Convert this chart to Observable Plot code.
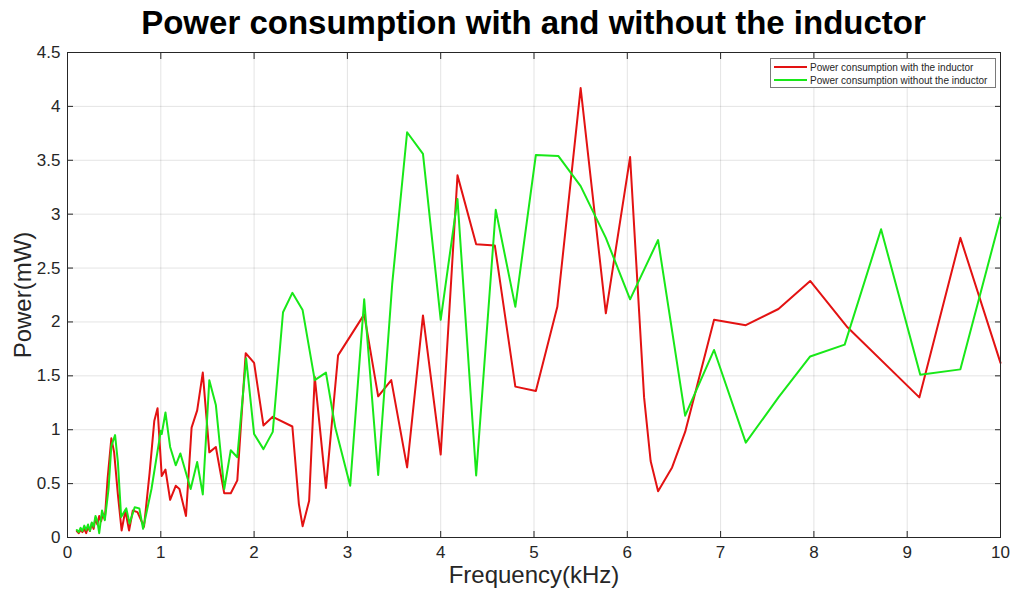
<!DOCTYPE html>
<html>
<head>
<meta charset="utf-8">
<script src="https://cdn.jsdelivr.net/npm/d3@7"></script>
<script src="https://cdn.jsdelivr.net/npm/@observablehq/plot@0.6"></script>
<style>
  html, body { margin: 0; padding: 0; background: #fff; }
  #wrap { position: relative; width: 1013px; height: 593px; font-family: "Liberation Sans", Arial, sans-serif; }
  #title { position: absolute; left: 67px; width: 933px; top: 4px; text-align: center; font-weight: bold; font-size: 33px; color: #000; }
  #legend { position: absolute; left: 770px; top: 58px; width: 226px; height: 30px; background: #fff; border: 1px solid #7a7a7a; box-sizing: border-box; font-size: 10px; color: #262626; }
  .row { position: absolute; left: 3px; height: 12px; display: flex; align-items: center; }
  .sw { width: 33px; height: 0; border-top: 2px solid; margin-right: 3px; }
</style>
</head>
<body>
<div id="wrap">
  <div id="chart"></div>
  <div id="title"></div>
  <div id="legend"></div>
</div>
<script>
const titleText = "Power consumption with and without the inductor";
const xLabel = "Frequency(kHz)";
const yLabel = "Power(mW)";
const seriesNames = ["Power consumption with the inductor", "Power consumption without the inductor"];
const seriesColors = ["#e31212", "#18e818"];

const xTicks = [0,1,2,3,4,5,6,7,8,9,10];
const yTicks = [0,0.5,1,1.5,2,2.5,3,3.5,4,4.5];

const freqWith = [0.10,0.12,0.14,0.16,0.18,0.20,0.22,0.24,0.26,0.28,0.30,0.32,0.34,0.36,0.38,0.40,0.43,0.47,0.50,0.54,0.58,0.62,0.66,0.70,0.75,0.82,0.88,0.93,0.965,1.01,1.05,1.10,1.16,1.20,1.27,1.33,1.39,1.45,1.52,1.59,1.68,1.75,1.82,1.91,2.0,2.10,2.20,2.41,2.48,2.52,2.59,2.65,2.77,2.90,3.18,3.33,3.47,3.64,3.81,4.0,4.18,4.38,4.58,4.80,5.02,5.25,5.50,5.77,6.03,6.18,6.25,6.33,6.48,6.62,6.93,7.27,7.62,7.96,8.36,9.13,9.57,10.0];
const powerWith = [0.06,0.04,0.07,0.05,0.08,0.04,0.1,0.06,0.13,0.08,0.18,0.12,0.2,0.15,0.22,0.17,0.55,0.92,0.79,0.4,0.065,0.25,0.065,0.25,0.235,0.1,0.6,1.08,1.2,0.57,0.63,0.35,0.48,0.45,0.2,1.02,1.18,1.53,0.79,0.84,0.41,0.41,0.53,1.71,1.62,1.04,1.12,1.03,0.31,0.105,0.34,1.49,0.46,1.69,2.07,1.31,1.46,0.65,2.06,0.77,3.36,2.72,2.71,1.40,1.36,2.14,4.17,2.08,3.53,1.30,0.71,0.43,0.65,0.98,2.02,1.97,2.12,2.38,1.95,1.30,2.78,1.62];

const freqWithout = [0.10,0.12,0.14,0.16,0.18,0.20,0.22,0.24,0.26,0.28,0.30,0.32,0.34,0.37,0.40,0.44,0.47,0.51,0.54,0.575,0.63,0.665,0.72,0.77,0.81,0.9,1.0,1.01,1.05,1.10,1.16,1.21,1.32,1.39,1.45,1.52,1.59,1.68,1.75,1.82,1.915,2.0,2.10,2.20,2.31,2.41,2.52,2.65,2.77,2.87,3.03,3.18,3.33,3.48,3.64,3.81,4.0,4.18,4.38,4.59,4.80,5.02,5.26,5.50,5.77,6.03,6.33,6.62,6.93,7.27,7.62,7.96,8.33,8.72,9.14,9.57,10.0];
const powerWithout = [0.07,0.05,0.09,0.06,0.11,0.07,0.12,0.06,0.14,0.1,0.2,0.15,0.04,0.25,0.16,0.45,0.85,0.95,0.7,0.19,0.27,0.13,0.28,0.27,0.08,0.45,0.99,0.96,1.16,0.84,0.67,0.78,0.45,0.70,0.40,1.46,1.23,0.45,0.81,0.745,1.66,0.96,0.82,0.98,2.09,2.27,2.11,1.46,1.53,1.02,0.48,2.21,0.58,2.35,3.76,3.56,2.02,3.14,0.575,3.04,2.14,3.55,3.54,3.26,2.78,2.21,2.76,1.13,1.74,0.88,1.30,1.68,1.79,2.86,1.51,1.56,2.97];

const data = [
  ...freqWith.map((f, i) => ({f, p: powerWith[i], s: seriesNames[0]})),
  ...freqWithout.map((f, i) => ({f, p: powerWithout[i], s: seriesNames[1]}))
];

const axisColor = "#262626";
const chart = Plot.plot({
  width: 1013,
  height: 593,
  marginLeft: 67,
  marginRight: 13,
  marginTop: 52,
  marginBottom: 56,
  style: {fontFamily: "'Liberation Sans', Arial, sans-serif", color: axisColor, background: "#fff"},
  x: {domain: [0, 10], ticks: xTicks},
  y: {domain: [0, 4.5], ticks: yTicks},
  color: {domain: seriesNames, range: seriesColors},
  marks: [
    Plot.gridX(xTicks, {stroke: "#000", strokeOpacity: 0.11}),
    Plot.gridY(yTicks, {stroke: "#000", strokeOpacity: 0.11}),
    Plot.axisX(xTicks, {anchor: "bottom", tickSize: -6, tickPadding: 14, fontSize: 17, label: null, stroke: axisColor, fill: axisColor}),
    Plot.axisX(xTicks, {anchor: "top", tickSize: -6, tickFormat: () => "", label: null, stroke: axisColor}),
    Plot.axisY(yTicks, {anchor: "left", tickSize: -6, tickPadding: 13, fontSize: 17, label: null, tickFormat: d => String(d), stroke: axisColor, fill: axisColor}),
    Plot.axisY(yTicks, {anchor: "right", tickSize: -6, tickFormat: () => "", label: null, stroke: axisColor}),
    Plot.line(data, {x: "f", y: "p", z: "s", stroke: "s", strokeWidth: 2}),
    Plot.frame({stroke: axisColor, strokeWidth: 1}),
    Plot.text([xLabel], {text: d => d, frameAnchor: "bottom", dy: 45, fontSize: 24, fill: axisColor}),
    Plot.text([yLabel], {text: d => d, frameAnchor: "left", textAnchor: "middle", dx: -44, rotate: -90, fontSize: 24, fill: axisColor})
  ]
});
document.getElementById("chart").appendChild(chart);
document.getElementById("title").textContent = titleText;
const lg = document.getElementById("legend");
seriesNames.forEach((n, i) => {
  const r = document.createElement("div");
  r.className = "row";
  r.style.top = (2 + i * 13) + "px";
  const sw = document.createElement("div");
  sw.className = "sw";
  sw.style.borderTopColor = seriesColors[i];
  const t = document.createElement("span");
  t.textContent = n;
  r.appendChild(sw); r.appendChild(t);
  lg.appendChild(r);
});
</script>
</body>
</html>
